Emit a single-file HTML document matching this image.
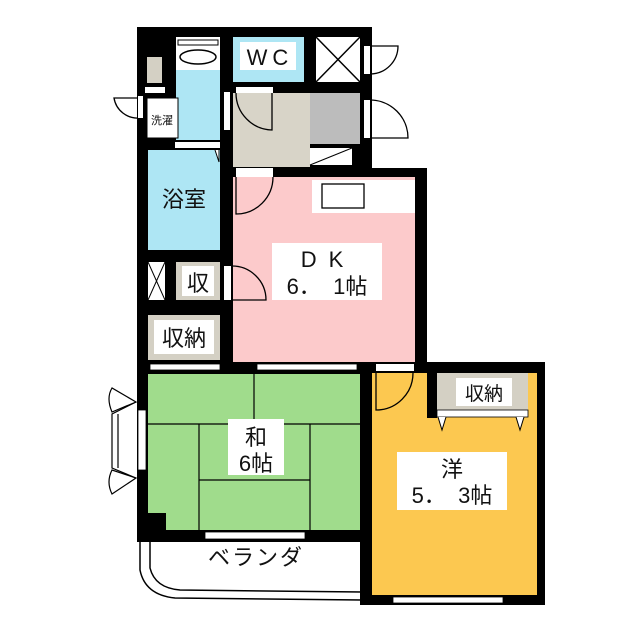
<!DOCTYPE html>
<html><head><meta charset="utf-8"><style>
html,body{margin:0;padding:0;background:#fff;width:640px;height:640px;overflow:hidden}
svg{display:block}
text{font-family:"Liberation Sans","Noto Sans CJK JP",sans-serif;fill:#111}
</style></head><body>
<svg width="640" height="640" viewBox="0 0 640 640" xmlns="http://www.w3.org/2000/svg">
<!-- balcony -->
<path d="M140 542 L140 570 Q145 595 175 598 L362 600" fill="none" stroke="#000" stroke-width="1.5"/>
<path d="M150 542 L150 568 Q155 588 180 590 L362 592" fill="none" stroke="#000" stroke-width="1.5"/>
<!-- walls -->
<rect x="137" y="27" width="235" height="150" fill="#000"/>
<rect x="137" y="168" width="290" height="206" fill="#000"/>
<rect x="137" y="360" width="235" height="182" fill="#000"/>
<rect x="360" y="362" width="185" height="243" fill="#000"/>
<!-- top area -->
<rect x="176" y="37" width="44" height="103" fill="#aee6f4"/>
<rect x="176" y="37" width="44" height="33" fill="#fff"/>
<ellipse cx="198" cy="57" rx="18" ry="7" fill="#fff" stroke="#000" stroke-width="1.5"/>
<rect x="178" y="40" width="40" height="5" fill="#fff" stroke="#000" stroke-width="1"/>
<rect x="147" y="57" width="15" height="26" fill="#d4d0c4"/>
<rect x="145" y="87" width="20" height="6" fill="#fff"/>
<rect x="147" y="98" width="31" height="40" fill="#fff" stroke="#000"/>
<text x="162" y="124" font-size="11" text-anchor="middle">洗濯</text>
<rect x="175" y="142" width="45" height="6" fill="#fff"/>
<rect x="233" y="37" width="71" height="45" fill="#aee6f4"/>
<rect x="240" y="42" width="56" height="28" fill="#fff"/>
<text x="270" y="65" font-size="22" text-anchor="middle" letter-spacing="5">WC</text>
<rect x="316" y="37" width="44" height="45" fill="#fff"/>
<path d="M316 37 L360 82 M360 37 L316 82" stroke="#000" stroke-width="1.5"/>
<rect x="233" y="93" width="77" height="74" fill="#d8d4c8"/>
<rect x="310" y="93" width="50" height="51" fill="#bcbcbc"/>
<rect x="310" y="148" width="42" height="17" fill="#fff"/>
<path d="M310 165 L352 148" stroke="#000"/>
<rect x="224" y="92" width="6" height="38" fill="#fff"/>
<rect x="236" y="87" width="37" height="6" fill="#fff"/>
<path d="M272 93 L272 130 A37 37 0 0 1 236 93" fill="none" stroke="#000" stroke-width="1.3"/>
<rect x="364" y="100" width="6" height="38" fill="#fff"/>
<path d="M370 100 A38 38 0 0 1 408 138 L370 138" fill="none" stroke="#000" stroke-width="1.3"/>
<rect x="364" y="46" width="6" height="28" fill="#fff"/>
<path d="M370 74 A28 28 0 0 0 398 46 L370 46" fill="none" stroke="#000" stroke-width="1.3"/>
<path d="M140 98 L140 118 M140 118 A24 24 0 0 1 114 98 L140 98" fill="none" stroke="#000" stroke-width="1.3"/>
<rect x="138" y="96" width="5" height="22" fill="#fff"/>
<!-- bath -->
<rect x="148" y="150" width="72" height="100" fill="#aee6f4"/>
<text x="184" y="207" font-size="22" text-anchor="middle">浴室</text>
<path d="M215 150 L219 162 L219 150" fill="#fff" stroke="#000"/>
<!-- closets -->
<rect x="148" y="262" width="17" height="38" fill="#fff"/>
<path d="M148 262 L165 300 M165 262 L148 300" stroke="#000"/>
<rect x="176" y="262" width="44" height="38" fill="#d4d0c4"/>
<rect x="182" y="266" width="32" height="30" fill="#fff"/>
<text x="198" y="291" font-size="22" text-anchor="middle">収</text>
<rect x="148" y="315" width="72" height="45" fill="#d4d0c4"/>
<rect x="154" y="320" width="60" height="34" fill="#fff"/>
<text x="184" y="346" font-size="22" text-anchor="middle">収納</text>
<!-- DK -->
<rect x="233" y="177" width="182" height="185" fill="#fccacb"/>
<rect x="312" y="180" width="103" height="33" fill="#fff"/>
<rect x="322" y="184" width="42" height="24" fill="#fff" stroke="#000" stroke-width="1.3"/>
<rect x="236" y="168" width="37" height="9" fill="#fff"/>
<path d="M236 177 L236 214 A37 37 0 0 0 273 177" fill="none" stroke="#000" stroke-width="1.3"/>
<rect x="224" y="266" width="7" height="34" fill="#fff"/>
<path d="M231 266 A34 34 0 0 1 266 300 L231 300" fill="none" stroke="#000" stroke-width="1.3"/>
<rect x="272" y="243" width="110" height="57" fill="#fff"/>
<text x="328" y="267" font-size="22" text-anchor="middle" letter-spacing="12">DK</text>
<text x="327" y="294" font-size="22" text-anchor="middle" xml:space="preserve">6．  1帖</text>
<!-- windows between -->
<rect x="150" y="364" width="70" height="6" fill="#fff" stroke="#000" stroke-width="0.8"/>
<rect x="257" y="364" width="100" height="6" fill="#fff" stroke="#000" stroke-width="0.8"/>
<rect x="376" y="364" width="38" height="7" fill="#fff"/>
<!-- washitsu -->
<rect x="148" y="374" width="212" height="156" fill="#a0dc8c"/>
<g stroke="#000" stroke-width="1.2" fill="none">
<path d="M254 374 L254 424 M148 424 L360 424 M199 424 L199 530 M310 424 L310 530 M199 480 L310 480"/>
</g>
<rect x="148" y="513" width="18" height="18" fill="#000"/>
<rect x="228" y="419" width="56" height="56" fill="#fff"/>
<text x="256" y="445" font-size="22" text-anchor="middle">和</text>
<text x="256" y="471" font-size="22" text-anchor="middle">6帖</text>
<rect x="205" y="532" width="100" height="7" fill="#fff" stroke="#000" stroke-width="0.8"/>
<!-- bay window -->
<rect x="138" y="410" width="8" height="60" fill="#fff" stroke="#000" stroke-width="0.8"/>
<path d="M136 402 L112 414 L112 468 L136 478 M118 414 L118 468" fill="none" stroke="#000" stroke-width="1.2"/>
<path d="M136 402 L112 388 Q106 398 112 412 Z M136 478 L112 494 Q106 482 112 470 Z" fill="#fff" stroke="#000" stroke-width="1.2"/>
<text x="256" y="565" font-size="22" text-anchor="middle" letter-spacing="2">ベランダ</text>
<!-- yo -->
<rect x="372" y="373" width="165" height="222" fill="#fcc850"/>
<rect x="427" y="373" width="10" height="45" fill="#000"/>
<rect x="437" y="373" width="91" height="37" fill="#d4d0c4"/>
<rect x="437" y="410" width="91" height="7" fill="#fff" stroke="#000" stroke-width="0.8"/>
<rect x="456" y="378" width="56" height="28" fill="#fff"/>
<text x="484" y="400" font-size="19" text-anchor="middle">収納</text>
<path d="M438 417 L442 430 L446 417 M516 417 L520 430 L524 417" fill="#fff" stroke="#000"/>
<path d="M376 373 L376 410 A37 37 0 0 0 413 373" fill="none" stroke="#000" stroke-width="1.3"/>
<rect x="397" y="452" width="110" height="58" fill="#fff"/>
<text x="452" y="477" font-size="22" text-anchor="middle">洋</text>
<text x="452" y="503" font-size="22" text-anchor="middle" xml:space="preserve">5．  3帖</text>
<rect x="393" y="597" width="110" height="6" fill="#fff" stroke="#000" stroke-width="0.8"/>
</svg>
</body></html>
